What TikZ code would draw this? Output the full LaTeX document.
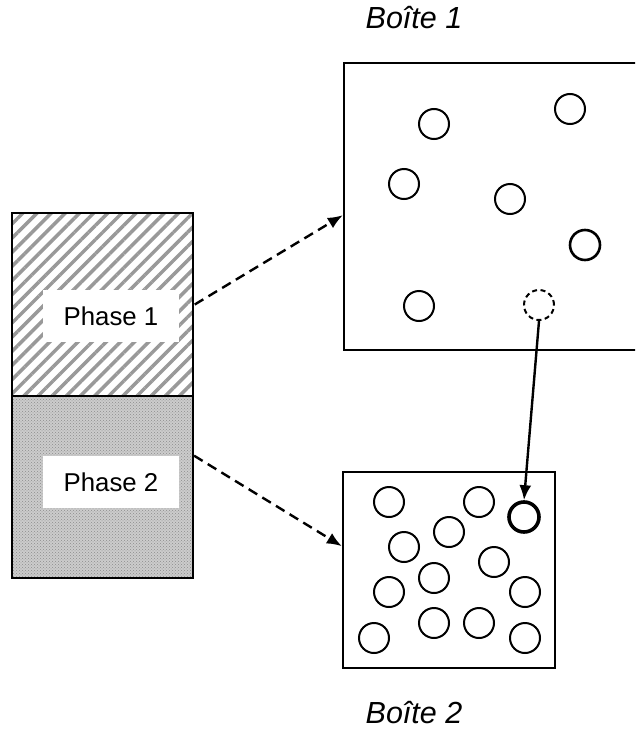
\documentclass[tikz,border=0pt]{standalone}
\usepackage{fontspec}
\setmainfont{Liberation Sans}
\usetikzlibrary{arrows.meta,positioning,calc,patterns,patterns.meta}

\begin{document}
\begin{tikzpicture}[x=1pt, y=-1pt,
  phase/.style={draw, line width=2.2pt, minimum width=181pt, inner sep=0pt},
  lbl/.style={fill=white, minimum width=136pt, minimum height=52pt, inner sep=0pt, font=\fontsize{25.8}{30}\selectfont},
  boxe/.style={draw, line width=2.3pt, inner sep=0pt},
  grain/.style={draw, circle, minimum size=30pt, inner sep=0pt, line width=2pt},
  link/.style={dashed, dash pattern=on 10pt off 6pt, line width=2.4pt, -{Latex[length=15pt,width=12pt]}},
  move/.style={line width=2.4pt, -{Latex[length=15pt,width=12pt]}},
  title/.style={font=\fontsize{30.5}{34}\selectfont\itshape}
]
  \useasboundingbox (0,0) rectangle (635,731);
  \clip (0,0) rectangle (635,731);

  %% Left column: the two phases
  \node[phase, minimum height=183pt, pattern={Lines[angle=45,distance=10pt,line width=3.5pt]}, pattern color=gray!80] (ph1) at (102.5,304.5) {};
  \node[phase, minimum height=182pt, preaction={fill=gray!40}, pattern=crosshatch dots, pattern color=gray!90] (ph2) at (102.5,487) {};
  \node[lbl] (lbl1) at (111,316) {Phase 1};
  \node[lbl] (lbl2) at (111,482) {Phase 2};

  %% Boxes and titles
  \node[boxe, minimum width=296pt, minimum height=287pt] (box1) at (492,206.5) {};
  \node[boxe, minimum width=212pt, minimum height=196pt] (box2) at (449,570) {};
  \node[title] (t1) at (414,18) {Boîte 1};
  \node[title] (t2) at (414,713) {Boîte 2};

  %% Grains in box 1
  \foreach \p [count=\i] in {(434,124),(570,109),(404,184),(510,199),(419,306)}
    \node[grain] (a\i) at \p {};
  \node[grain, line width=2.6pt] (a6) at (585,245) {};
  \node[grain, dashed, dash pattern=on 5pt off 3.5pt] (gone) at (539,305) {};

  %% Grains in box 2
  \foreach \p [count=\i] in {(389,502),(479,502),(449,532),(404,547),(494,562),(434,578),
                             (389,592),(525,592),(434,623),(479,623),(374,638),(525,638)}
    \node[grain] (b\i) at \p {};
  \node[grain, line width=3.6pt] (grown) at (524,517) {};

  %% Connectors
  \draw[link] (ph1.east) -- ($(box1.north west)!0.53!(box1.south west)$);
  \draw[link] ($(ph2.north east)!0.33!(ph2.south east)$) -- ($(box2.north west)!0.38!(box2.south west)$);
  \draw[move] (gone.south) -- (grown.north);
\end{tikzpicture}
\end{document}
